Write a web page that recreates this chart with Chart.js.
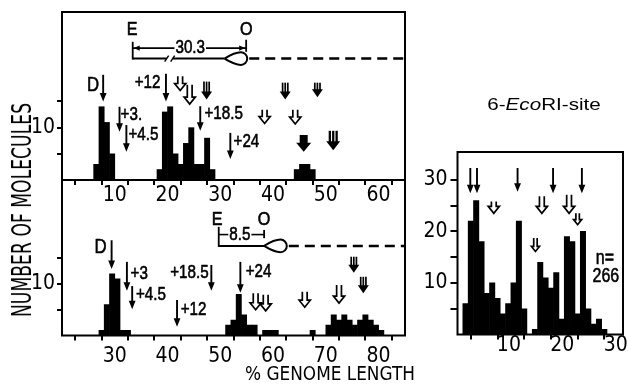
<!DOCTYPE html>
<html><head><meta charset="utf-8">
<script src="https://cdn.jsdelivr.net/npm/chart.js@4.4.1/dist/chart.umd.min.js"></script>
<style>
html,body{margin:0;padding:0;background:#fff;}
#wrap{position:relative;width:628px;height:387px;overflow:hidden;background:#fff;}
#wrap canvas{position:absolute;}
.t{position:absolute;white-space:nowrap;color:#000;line-height:1;font-family:'Liberation Sans Narrow','DejaVu Sans Condensed','Liberation Sans',Arial,sans-serif;}
</style></head><body>
<div id="wrap">
<canvas id="cTop" width="420" height="215" style="left:0;top:0"></canvas>
<canvas id="cBot" width="420" height="217" style="left:0;top:170px"></canvas>
<canvas id="cRight" width="228" height="247" style="left:400px;top:140px"></canvas>
<div class="t" id="yTitle" data-w="214" style="left:22px;top:210px;font-size:26px">NUMBER OF MOLECULES</div>
<div class="t" id="xTitle" data-w="170" style="left:330px;top:373px;font-size:19px">% GENOME LENGTH</div>
<div class="t" id="rTitle" data-w="114" style="left:544px;top:104px;font-size:17px;font-family:'Liberation Sans',Arial,sans-serif">6-<i>Eco</i>RI-site</div>
</div>
<script>
// ---------------- DATA ----------------
const topBinLeft = [6,7,8,9,18,19,20,21,22,23,24,25,26,27,28,44,45,46,47];
const topCounts  = [3,14,11,5,2,13,14,5,3,7,10,3,3,8,2,2,3,3,2];
const botBinLeft = [27,28,29,30,31,32,51,52,53,54,55,56,58,59,60,67,70,71,72,73,74,75,76,77,78,79,80];
const botCounts  = [1,6,12,11,1,1,2,3,8,4,2,2,1,1,1,1,2,4,3,4,3,2,3,4,3,2,1];
const rightBinLeft = [1,2,3,4,5,6,7,8,9,10,11,12,13,14,15,16,17,18,19,20,21,22,23,24,25,26,27];
const rightCounts  = [6,22,26,18,8,10,7,4,6,10,22,5,0,1,14,11,9,12,3,19,18,4,20,5,2,3,1];

const topXTicks = [5,10,15,20,25,30,35,40,45,50,55,60];
const topXLabels = [10,20,30,40,50,60];
const botXTicks = [25,30,35,40,45,50,55,60,65,70,75,80];
const botXLabels = [30,40,50,60,70,80];
const leftYTicks = [5,10,15];
const leftYLabels = [10];
const rightXTicks = [5,10,15,20,25,30];
const rightXLabels = [10,20,30];
const rightYTicks = [5,10,15,20,25,30];
const rightYLabels = [10,20,30];

// annotation arrows: [x, yTop, yTip, kind]   (data units)
const topArrows = [[7.8,20.1,15.0,'s'],[10.9,14.0,9.2,'s'],[12.2,10.5,5.4,'s'],[19.7,20.3,15.0,'s'],[26.2,14.1,9.4,'s'],[31.9,9.0,4.0,'s'],
  [22.4,19.8,17.1,'h'],[24.2,18.2,14.5,'h'],[27.4,18.8,15.4,'t'],[38.4,13.4,10.8,'h'],[42.3,18.6,15.4,'t'],[44.2,13.4,10.7,'h'],
  [48.4,18.6,15.8,'t'],[45.8,8.6,5.4,'b'],[51.4,9.4,5.7,'tb']];
const topTexts = [['D',5.9,18.2,'c',21],['+12',18.65,18.5,'r',19],['+3.',11.1,12.4,'l',19],['+4.5',12.6,8.6,'l',19],['+18.5',27.0,12.6,'l',19],['+24',32.5,7.3,'l',19]];
const botArrows = [[29.4,18.5,12.9,'s'],[32.3,14.3,8.7,'s'],[33.3,9.6,5.1,'s'],[48.3,13.7,8.7,'s'],[41.8,6.9,1.7,'s'],[53.8,14.3,8.3,'s'],
  [56.7,8.2,5.0,'h'],[58.6,7.9,4.8,'h'],[66.0,8.5,5.5,'h'],[72.5,9.8,6.3,'h'],[75.3,15.3,12.2,'t'],[77.1,11.4,8.2,'t']];
const botTexts = [['D',27.3,17.1,'c',21],['+3',33.0,11.9,'l',19],['+4.5',34.0,7.9,'l',19],['+18.5',47.8,12.1,'r',19],['+12',42.5,5.0,'l',19],['+24',54.8,12.4,'l',19]];
const rightArrows = [[2.4,32.3,27.4,'s'],[3.65,32.3,27.4,'s'],[11.25,32.3,27.7,'s'],[17.9,32.3,27.4,'s'],[23.3,32.3,27.4,'s'],
  [6.8,25.8,23.5,'h'],[14.6,18.7,16.1,'hs'],[15.8,26.8,23.5,'h'],[20.9,27.1,23.5,'h'],[22.5,23.5,21.3,'hs']];
const rightTexts = [['n=',27.6,14.8,'c',20],['266',27.8,11.2,'c',20]];

// E—O map diagrams (data units)
const topMap = {label:'30.3', e:13.4, eText:13.3, o:34.9, oText:34.9, yLab:28.7, yBracket:25.2, eTickTop:26.4, yLine:23.2,
  oTickTop:26.8, oTickBot:24.5, labX:24.3, brk:20.4, loopS:30.8, loopE:35.1, dashEnd:64.7, heads:true};
const botMap = {label:'8.5', e:49.7, eText:49.4, o:58.3, oText:58.3, yLab:22.4, yBracket:19.6, eTickTop:21.1, yLine:17.4,
  oTickTop:20.5, oTickBot:18.9, labX:53.7, brk:null, loopS:58.3, loopE:62.6, dashEnd:85, heads:false};

// ---------------- DRAWING ----------------
const F_TICK = "'Liberation Sans Narrow','DejaVu Sans Condensed','Liberation Sans',Arial,sans-serif";
const F_ANN = "'Liberation Sans',Arial,sans-serif";

function line(ctx,x1,y1,x2,y2){ctx.beginPath();ctx.moveTo(x1,y1);ctx.lineTo(x2,y2);ctx.stroke();}
function tri(ctx,x,ytip,hw,hl){ctx.beginPath();ctx.moveTo(x-hw,ytip-hl);ctx.lineTo(x+hw,ytip-hl);ctx.lineTo(x,ytip);ctx.closePath();ctx.fill();}
function txt(ctx,s,X,Y,al,size,sx){
  ctx.save();ctx.translate(X,Y);ctx.scale(sx||0.8,1);
  ctx.font=size+'px '+F_ANN;ctx.textAlign=al==='l'?'left':(al==='r'?'right':'center');ctx.textBaseline='middle';
  ctx.fillStyle='#000';ctx.strokeStyle='#000';ctx.lineWidth=0.6;ctx.lineJoin='round';
  ctx.fillText(s,0,0);ctx.strokeText(s,0,0);ctx.restore();
}
function arrow(ctx,X,Y1,Y2,k){
  ctx.fillStyle='#000';ctx.strokeStyle='#000';ctx.lineJoin='miter';ctx.lineCap='butt';
  if(k==='s'){ctx.lineWidth=1.9;line(ctx,X,Y1,X,Y2-6);tri(ctx,X,Y2,3.4,8.5);}
  else if(k==='h'||k==='hs'){
    const s=k==='h'?1:0.72,sw=2.4*s,hw=5.6*s,hl=7*s;ctx.lineWidth=1.7;
    ctx.beginPath();ctx.moveTo(X-sw,Y1);ctx.lineTo(X-sw,Y2-hl);ctx.lineTo(X-hw,Y2-hl);ctx.lineTo(X,Y2);
    ctx.lineTo(X+hw,Y2-hl);ctx.lineTo(X+sw,Y2-hl);ctx.lineTo(X+sw,Y1);ctx.stroke();
  } else if(k==='t'||k==='tb'){
    const b=k==='tb',d=b?3.4:2.6,hw=b?7:5.5,hl=b?9:8;ctx.lineWidth=b?2.3:1.7;
    for(const o of [-d,0,d]) line(ctx,X+o,Y1,X+o,Y2-hl+1);
    tri(ctx,X,Y2,hw,hl);
  } else if(k==='b'){
    ctx.fillRect(X-4,Y1,8,(Y2-9)-Y1+1);tri(ctx,X,Y2,7.5,9);
  }
}
function drawMap(ctx,xs,ys,d){
  const px=v=>xs.getPixelForValue(v),py=v=>ys.getPixelForValue(v);
  const xE=px(d.e),xO=px(d.o),yB=py(d.yBracket),yL=py(d.yLine);
  ctx.strokeStyle='#000';ctx.fillStyle='#000';
  txt(ctx,'E',px(d.eText),py(d.yLab),'c',19,0.85);
  txt(ctx,'O',px(d.oText),py(d.yLab),'c',19,0.85);
  ctx.save();ctx.font='19px '+F_ANN;const tw=ctx.measureText(d.label).width*0.8;ctx.restore();
  const xm=px(d.labX);
  txt(ctx,d.label,xm,yB,'c',19,0.8);
  ctx.strokeStyle='#000';ctx.lineWidth=1.6;
  line(ctx,xE,yB,xm-tw/2-1,yB);line(ctx,xm+tw/2+1,yB,xO,yB);
  if(d.heads){
    ctx.beginPath();ctx.moveTo(xE+1,yB);ctx.lineTo(xE+7,yB-2.6);ctx.lineTo(xE+7,yB+2.6);ctx.closePath();ctx.fill();
    ctx.beginPath();ctx.moveTo(xO-1,yB);ctx.lineTo(xO-7,yB-2.6);ctx.lineTo(xO-7,yB+2.6);ctx.closePath();ctx.fill();
  }
  ctx.lineWidth=1.8;
  line(ctx,xE,py(d.eTickTop),xE,yL+1);
  line(ctx,xO,py(d.oTickTop),xO,py(d.oTickBot));
  ctx.lineWidth=2;
  const xs0=px(d.loopS),xe0=px(d.loopE);
  if(d.brk!==null){
    const xb=px(d.brk);
    line(ctx,xE,yL,xb-3,yL);line(ctx,xb+3,yL,xs0,yL);
    ctx.lineWidth=1.4;line(ctx,xb-5,yL+3,xb-1,yL-3);line(ctx,xb+1,yL+3,xb+5,yL-3);ctx.lineWidth=2;
  } else line(ctx,xE,yL,xs0,yL);
  // loop (teardrop)
  const h=6.3,w=xe0-xs0,cx=xe0-h;
  ctx.beginPath();ctx.moveTo(xs0,yL);
  ctx.quadraticCurveTo(xs0+w*0.45,yL-h,cx,yL-h);
  ctx.arc(cx,yL,h,-Math.PI/2,Math.PI/2);
  ctx.quadraticCurveTo(xs0+w*0.45,yL+h,xs0,yL);
  ctx.stroke();
  ctx.setLineDash([10,6]);ctx.lineWidth=2.5;line(ctx,xe0+2,yL,px(d.dashEnd),yL);ctx.setLineDash([]);
}
function annot(spec){
  return {id:'annot_'+spec.name,afterDatasetsDraw(chart){
    const {ctx,chartArea:a,scales:{x,y}}=chart;
    ctx.save();
    ctx.strokeStyle='#000';ctx.lineWidth=2;ctx.strokeRect(a.left,a.top,a.right-a.left,a.bottom-a.top);
    for(const [ax,y1,y2,k] of spec.arrows) arrow(ctx,x.getPixelForValue(ax),y.getPixelForValue(y1),y.getPixelForValue(y2),k);
    for(const [s,tx,ty,al,sz] of spec.texts) txt(ctx,s,x.getPixelForValue(tx),y.getPixelForValue(ty),al,sz,0.8);
    if(spec.map) drawMap(ctx,x,y,spec.map);
    ctx.restore();
  }};
}
function axis(pos,min,max,tickVals,labelVals,size,o){
  return {type:'linear',position:pos,min,max,offset:false,
    afterBuildTicks:s=>{s.ticks=tickVals.map(v=>({value:v}));},
    afterFit:s=>{if(pos==='bottom'){s.height=size;}else{s.width=size;} s.paddingLeft=0;s.paddingRight=0;s.paddingTop=0;s.paddingBottom=0;},
    grid:{display:true,drawOnChartArea:false,drawTicks:true,tickLength:o.tl,color:'#000',lineWidth:2},
    border:{display:false},
    ticks:{autoSkip:false,maxRotation:0,minRotation:0,padding:o.pad,color:'#000',labelOffset:o.lo||0,
      font:{family:F_TICK,size:21,lineHeight:1},
      callback:v=>labelVals.includes(v)?String(v):''}};
}
function panel(id,bins,counts,cfg){
  return new Chart(document.getElementById(id),{
    type:'bar',
    data:{datasets:[{data:bins.map((b,i)=>({x:b+0.5,y:counts[i]})),backgroundColor:'#000',borderWidth:0,
      barPercentage:1,categoryPercentage:1}]},
    options:{responsive:false,animation:false,events:[],devicePixelRatio:1,
      layout:{padding:cfg.pad},
      plugins:{legend:{display:false},tooltip:{enabled:false},title:{display:false}},
      scales:{x:cfg.x,y:cfg.y}},
    plugins:[annot(cfg.annot)]
  });
}
panel('cTop',topBinLeft,topCounts,{
  pad:{top:12,right:15,left:0,bottom:0},
  x:axis('bottom',0,65,topXTicks,topXLabels,35,{tl:5,pad:0}),
  y:axis('left',0,32.1,leftYTicks,leftYLabels,62,{tl:5,pad:2}),
  annot:{name:'top',arrows:topArrows,texts:topTexts,map:topMap}});
panel('cBot',botBinLeft,botCounts,{
  pad:{top:10,right:15,left:0,bottom:0},
  x:axis('bottom',20,85,botXTicks,botXLabels,51.5,{tl:5,pad:6}),
  y:axis('left',0,30.2,leftYTicks,leftYLabels,62,{tl:5,pad:2}),
  annot:{name:'bot',arrows:botArrows,texts:botTexts,map:botMap}});
panel('cRight',rightBinLeft,rightCounts,{
  pad:{top:12,right:5,left:0,bottom:0},
  x:axis('bottom',0,31,rightXTicks,rightXLabels,52.5,{tl:5,pad:-4,lo:-2}),
  y:axis('left',0,35.4,rightYTicks,rightYLabels,57.5,{tl:7,pad:3}),
  annot:{name:'right',arrows:rightArrows,texts:rightTexts,map:null}});

// fit HTML titles to their widths
for(const [id,rot] of [['yTitle',true],['xTitle',false],['rTitle',false]]){
  const el=document.getElementById(id);
  const k=(+el.dataset.w)/el.offsetWidth;
  el.style.transform='translate(-50%,-50%)'+(rot?' rotate(-90deg)':'')+' scaleX('+k+')';
}
</script>
</body></html>
